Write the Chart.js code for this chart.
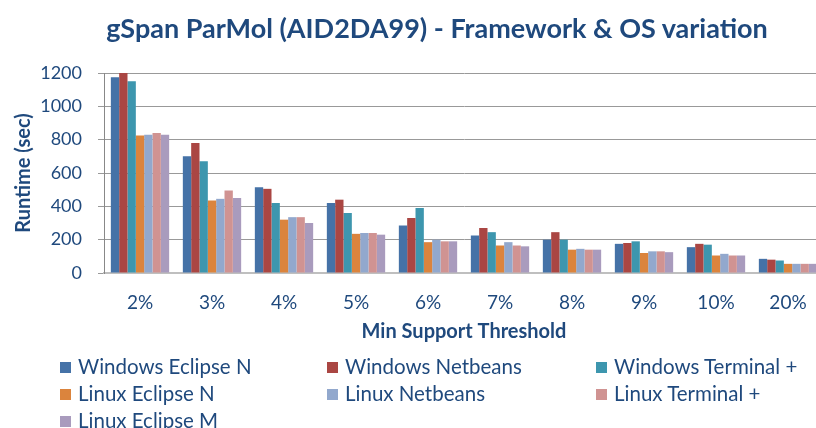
<!DOCTYPE html>
<html>
<head>
<meta charset="utf-8">
<script src="https://cdn.jsdelivr.net/npm/chart.js@4/dist/chart.umd.min.js"></script>
<style>
  html, body { margin: 0; padding: 0; background: #fff; overflow: hidden; width: 816px; height: 428px; }
  #wrap { position: absolute; left: 0; top: 0; width: 830px; height: 428px; }
  #title { position: absolute; left: 0; top: 12px; width: 874px; text-align: center; white-space: nowrap;
           font-family: Lato, "Open Sans", sans-serif; font-size: 27px; font-weight: bold; color: #1F497D; line-height: 32px; }
  #legend { position: absolute; left: 0; top: 0; width: 816px; height: 428px; pointer-events: none;
            font-family: Lato, "Open Sans", sans-serif; font-size: 20.5px; color: #1F497D; }
  .li { position: absolute; white-space: nowrap; line-height: 24px; }
  .sw { display: inline-block; width: 11px; height: 11px; margin-right: 7px; vertical-align: 1px; }
</style>
</head>
<body>
<div id="wrap"><canvas id="c"></canvas></div>
<div id="title"></div>
<div id="legend"></div>
<script>
const chartTitle = 'gSpan ParMol (AID2DA99) - Framework & OS variation';
const categories = ['2%', '3%', '4%', '5%', '6%', '7%', '8%', '9%', '10%', '20%'];
const seriesNames = ['Windows Eclipse N', 'Windows Netbeans', 'Windows Terminal +', 'Linux Eclipse N', 'Linux Netbeans', 'Linux Terminal +', 'Linux Eclipse M'];
const windowsEclipseN   = [1175, 700, 515, 420, 285, 225, 200, 175, 155, 85];
const windowsNetbeans   = [1200, 780, 505, 440, 330, 270, 245, 180, 175, 80];
const windowsTerminal   = [1150, 670, 420, 360, 390, 245, 200, 190, 170, 75];
const linuxEclipseN     = [825, 435, 320, 235, 185, 165, 140, 120, 105, 55];
const linuxNetbeans     = [830, 445, 335, 240, 200, 185, 145, 130, 115, 55];
const linuxTerminal     = [840, 495, 335, 240, 190, 165, 140, 130, 105, 55];
const linuxEclipseM     = [830, 450, 300, 230, 190, 160, 140, 125, 105, 55];
const yTicks = [0, 200, 400, 600, 800, 1000, 1200];
const colors = ['#4572A7', '#AA4643', '#3D96AE', '#DB843D', '#92A8CD', '#D09392', '#A99BBD'];
const seriesValues = [windowsEclipseN, windowsNetbeans, windowsTerminal, linuxEclipseN, linuxNetbeans, linuxTerminal, linuxEclipseM];

const textColor = '#1F497D';
const fontFam = 'Lato, "Open Sans", sans-serif';

document.getElementById('title').textContent = chartTitle;

new Chart(document.getElementById('c'), {
  type: 'bar',
  data: {
    labels: categories,
    datasets: seriesNames.map((n, i) => ({
      label: n,
      data: seriesValues[i],
      backgroundColor: colors[i],
      borderWidth: 0,
      barPercentage: 1.0,
      categoryPercentage: 0.81
    }))
  },
  options: {
    responsive: true,
    maintainAspectRatio: false,
    animation: false,
    layout: { padding: { left: 0, right: 6, top: 73, bottom: 0 } },
    plugins: {
      legend: { display: false },
      tooltip: { enabled: false },
      title: { display: false }
    },
    scales: {
      x: {
        grid: { display: false, drawTicks: false },
        border: { display: true, color: '#BFBFBF', width: 2 },
        ticks: { color: textColor, font: { family: fontFam, size: 19 }, padding: 18, maxRotation: 0 },
        title: {
          display: true, text: 'Min Support Threshold', color: textColor,
          font: { family: fontFam, size: 20, weight: 'bold', lineHeight: 1.2 },
          padding: { top: 0, bottom: 84 }
        },
        afterFit: (s) => { s.height = 155; }
      },
      y: {
        min: 0, max: 1200,
        afterBuildTicks: (s) => { s.ticks = yTicks.map(v => ({ value: v })); },
        grid: { color: '#999999', lineWidth: 1, drawTicks: true, tickLength: 6 },
        border: { display: true, color: '#888888', width: 1 },
        ticks: { color: textColor, font: { family: fontFam, size: 18 }, padding: 16,
                 callback: (v) => String(v) },
        title: {
          display: true, text: 'Runtime (sec)', color: textColor,
          font: { family: fontFam, size: 20, weight: 'bold', lineHeight: 1.2 },
          padding: { top: 12, bottom: 0 }
        },
        afterFit: (s) => { s.width = 104; }
      }
    }
  }
});

// HTML legend (3 columns)
const legendCols = [60, 327, 596];
const legendRows = [354, 381, 408];
const lg = document.getElementById('legend');
seriesNames.forEach((n, i) => {
  const d = document.createElement('div');
  d.className = 'li';
  d.style.left = legendCols[i % 3] + 'px';
  d.style.top = legendRows[Math.floor(i / 3)] + 'px';
  const sw = document.createElement('span');
  sw.className = 'sw';
  sw.style.background = colors[i];
  d.appendChild(sw);
  d.appendChild(document.createTextNode(n));
  lg.appendChild(d);
});
</script>
</body>
</html>
